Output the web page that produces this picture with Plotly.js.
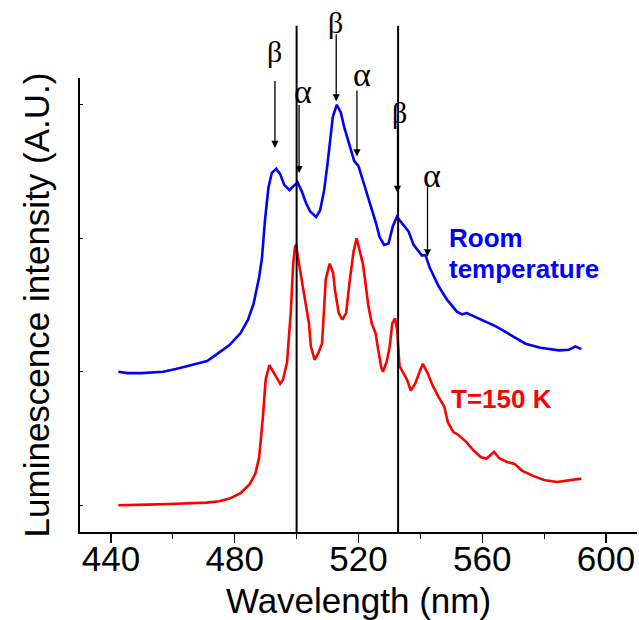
<!DOCTYPE html>
<html>
<head>
<meta charset="utf-8">
<script src="https://cdn.plot.ly/plotly-3.0.1.min.js"></script>
<style>html,body{margin:0;padding:0;background:#fff;}#chart{width:639px;height:620px;}</style>
</head>
<body>
<div id="chart"></div>
<script>
// Room temperature spectrum (offset by 1 A.U.)
const roomWavelength = [442.4,445.3,450,456.8,461,466.4,471.1,474.7,478.3,481.9,484.3,486.1,487.9,488.8,489.8,490.9,492.0,493.4,494.7,496.0,497.7,499.0,500.3,501.7,503.1,504.4,506.3,507.6,508.9,510.0,510.8,511.7,513.0,514.3,515.4,516.4,517.5,518.6,520.0,521.1,522.7,524.3,525.7,526.8,528.3,529.7,531.1,532.4,534.0,536.2,537.8,540.5,541.6,543.0,545.9,548.6,551.8,553.5,555.0,557.0,559.5,564.4,569.2,574.0,578.8,584.8,588.0,590.1,592.0];
const roomIntensity = [1.00,0.99,0.99,1.00,1.02,1.05,1.08,1.14,1.20,1.29,1.39,1.51,1.71,1.85,2.14,2.38,2.49,2.52,2.48,2.40,2.36,2.39,2.42,2.35,2.26,2.20,2.16,2.21,2.36,2.56,2.74,2.91,3.00,2.94,2.83,2.75,2.65,2.58,2.54,2.46,2.34,2.21,2.11,2.01,1.95,1.96,2.09,2.16,2.11,2.05,1.95,1.87,1.875,1.78,1.64,1.54,1.45,1.43,1.44,1.42,1.39,1.34,1.275,1.21,1.18,1.16,1.165,1.19,1.17];

// T = 150 K spectrum
const coldWavelength = [442.4,447,452,459,465,471,475,478.3,481.9,484.9,486.7,487.9,489.1,490.0,491.2,492.7,494.7,495.6,496.9,498.1,498.9,499.5,499.9,500.4,501.6,502.8,504.0,504.6,505.8,507.0,508.2,508.8,509.4,510.7,511.8,512.4,513.6,514.8,516.0,517.2,518.4,519.4,520.4,521.4,522.0,523.2,524.3,525.5,526.4,527.3,527.9,529.1,530.1,530.9,531.8,532.5,533.1,533.3,534.5,535.7,536.9,538.3,539.9,540.8,542.3,544.1,545.9,547.7,548.9,550.6,552.4,554.8,557.2,559.6,561.4,563.8,565.6,568.0,570.4,572.8,576.4,580.0,584.1,588.3,592.0];
const coldIntensity = [0.00,0.00,0.005,0.01,0.015,0.02,0.03,0.05,0.09,0.16,0.24,0.36,0.66,0.94,1.05,0.99,0.91,0.94,1.07,1.44,1.81,1.94,1.95,1.86,1.69,1.54,1.36,1.19,1.09,1.14,1.21,1.44,1.69,1.81,1.74,1.61,1.44,1.39,1.44,1.69,1.90,2.00,1.90,1.81,1.71,1.49,1.36,1.29,1.16,1.04,1.00,1.075,1.19,1.36,1.40,1.31,1.09,1.04,0.99,0.94,0.86,0.91,1.01,1.06,0.99,0.89,0.81,0.74,0.62,0.55,0.525,0.475,0.41,0.36,0.35,0.40,0.35,0.325,0.31,0.26,0.22,0.19,0.175,0.19,0.20];

// Reference lines (nm)
const referenceLines = [500, 532.8];

// Peak markers: label, arrow tip wavelength, arrow tip intensity
const peakLabels = ['β','α','β','α','β','α'];
const peakWavelength = [493.0, 500.8, 512.8, 519.5, 532.6, 542.3];
const peakTipIntensity = [2.676, 2.488, 3.025, 2.613, 2.339, 1.864];
const peakLabelWavelength = [492.8, 502.2, 512.6, 521.1, 533.2, 543.7];
const peakLabelPaperY = [1.058, 0.971, 1.122, 1.008, 0.923, 0.786];
const arrowLengthPx = [69, 70, 69, 68, 69, 72];

const xTickVals = [440, 480, 520, 560, 600];
const yTickVals = [0, 1, 2, 3];

const traces = [
  {x: roomWavelength, y: roomIntensity, type: 'scatter', mode: 'lines',
   line: {color: '#0000ff', width: 2.6}, name: 'Room temperature', hoverinfo: 'x+y'},
  {x: coldWavelength, y: coldIntensity, type: 'scatter', mode: 'lines',
   line: {color: '#ff0000', width: 2.6}, name: 'T=150 K', hoverinfo: 'x+y'}
];

const annotations = [];
for (let i = 0; i < peakLabels.length; i++) {
  annotations.push({
    x: peakWavelength[i], y: peakTipIntensity[i], xref: 'x', yref: 'y',
    ax: 0, ay: -arrowLengthPx[i], text: ' ', font: {size: 1},
    showarrow: true, arrowhead: 2, arrowsize: 1.1, arrowwidth: 1.3, arrowcolor: '#000'
  });
  annotations.push({
    x: peakLabelWavelength[i], y: peakLabelPaperY[i], xref: 'x', yref: 'paper',
    text: peakLabels[i], showarrow: false, xanchor: 'center', yanchor: 'middle',
    font: {family: 'Liberation Serif, Times New Roman, serif', size: peakLabels[i] === 'α' ? 34 : 30, color: '#000'}
  });
}
const sansBold = {family: 'Liberation Sans, Arial, sans-serif', size: 26, weight: 'bold'};
annotations.push({x: 548.6, y: 0.6476, xref: 'x', yref: 'paper', text: 'Room', showarrow: false,
  xanchor: 'left', yanchor: 'middle', font: Object.assign({}, sansBold, {color: '#0000ff'})});
annotations.push({x: 548.6, y: 0.580, xref: 'x', yref: 'paper', text: 'temperature', showarrow: false,
  xanchor: 'left', yanchor: 'middle', font: Object.assign({}, sansBold, {color: '#0000ff'})});
annotations.push({x: 549.3, y: 0.2936, xref: 'x', yref: 'paper', text: 'T=150 K', showarrow: false,
  xanchor: 'left', yanchor: 'middle', font: Object.assign({}, sansBold, {color: '#ff0000'})});

const shapes = referenceLines.map(v => ({
  type: 'line', xref: 'x', yref: 'paper', x0: v, x1: v, y0: 0, y1: 1.115,
  line: {color: '#000', width: 2}
}));

const axisFont = {family: 'Liberation Sans, Arial, sans-serif', size: 35, color: '#000'};

const layout = {
  width: 639, height: 620,
  margin: {l: 80, r: 2, t: 78, b: 88, pad: 0},
  paper_bgcolor: '#fff', plot_bgcolor: '#fff',
  showlegend: false,
  xaxis: {
    range: [430, 610], tickvals: xTickVals, ticktext: xTickVals.map(String),
    ticks: 'outside', ticklen: 9, tickwidth: 1.3, tickcolor: '#000',
    ticklabelstandoff: -14,
    minor: {tickvals: [460, 500, 540, 580], ticks: 'outside', ticklen: 5, tickwidth: 1.3, tickcolor: '#000'},
    showline: true, linecolor: '#000', linewidth: 1.6, showgrid: false, zeroline: false,
    tickfont: axisFont,
    title: {text: 'Wavelength (nm)', font: axisFont, standoff: 18},
    automargin: false
  },
  yaxis: {
    range: [-0.2, 3.2], tickvals: yTickVals, showticklabels: false,
    ticks: 'inside', ticklen: 3, tickwidth: 1, tickcolor: '#000',
    showline: true, linecolor: '#000', linewidth: 1.6, showgrid: false, zeroline: false,
    title: {text: 'Luminescence intensity (A.U.)', font: axisFont, standoff: 18},
    automargin: false
  },
  shapes: shapes,
  annotations: annotations
};

Plotly.newPlot('chart', traces, layout, {displayModeBar: false, staticPlot: true});
</script>
</body>
</html>
